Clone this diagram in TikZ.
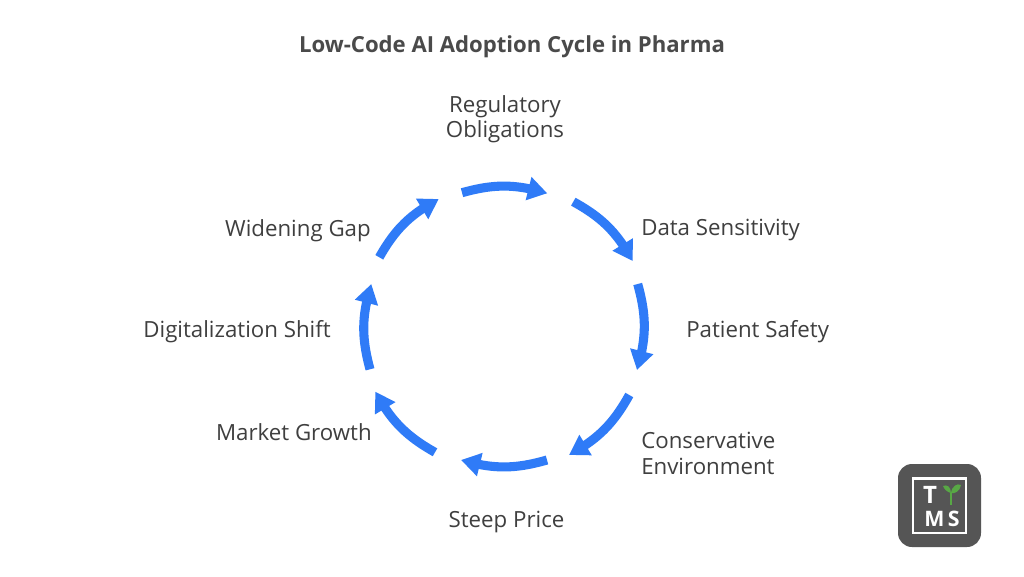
\documentclass[tikz,border=0pt]{standalone}
\usepackage{fontspec}
\setmainfont{Open Sans}
\usetikzlibrary{arrows.meta,bending}
\definecolor{cyc}{HTML}{2F7BF7}
\definecolor{lab}{HTML}{3F3F3F}
\definecolor{ttl}{HTML}{4A4A4A}
\definecolor{logo}{HTML}{555555}
\definecolor{leaf}{HTML}{58A845}
\tikzset{
  cycarrow/.style={draw=cyc,line width=6.8pt,-{Triangle[length=14.5pt,width=17pt,flex]}},
  lab/.style={font=\fontsize{16.7}{18.9}\selectfont,text=lab,inner sep=0pt,align=center},
  labl/.style={lab,anchor=west,align=left},
  labr/.style={lab,anchor=east,align=right},
  logot/.style={font=\fontsize{18}{18}\selectfont\bfseries,text=white,inner sep=0pt},
  logoms/.style={font=\fontsize{16}{16}\selectfont\bfseries,text=white,inner sep=0pt}
}
\begin{document}
\begin{tikzpicture}[x=0.75pt,y=0.75pt]
\useasboundingbox (0,0) rectangle (1024,576);
\fill[white] (0,0) rectangle (1024,576);
\node[inner sep=0pt,font=\fontsize{16.6}{18}\selectfont\bfseries,text=ttl] (title) at (512,529.5) {Low-Code AI Adoption Cycle in Pharma};
\coordinate (a1) at (462,383.3);   \coordinate (b1) at (547.3,382.7);
\coordinate (a2) at (573.3,374.3); \coordinate (b2) at (632.7,315);
\coordinate (a3) at (637.7,292);   \coordinate (b3) at (637,206);
\coordinate (a4) at (629.3,181);   \coordinate (b4) at (569,121);
\coordinate (a5) at (547,116);     \coordinate (b5) at (461,116);
\coordinate (a6) at (435,123.7);   \coordinate (b6) at (375.3,184.3);
\coordinate (a7) at (370,206.7);   \coordinate (b7) at (371.3,292);
\coordinate (a8) at (379.3,318.7); \coordinate (b8) at (438.7,377);
\foreach \i in {1,...,8}{
  \draw[cycarrow] (a\i) to[bend left=16] (b\i);
}
\node[lab] (reg) at (505,456.5) {Regulatory\\Obligations};
\node[labl] (data) at (641,345.5) {Data Sensitivity};
\node[labl] (pat) at (686,244) {Patient Safety};
\node[labl] (cons) at (641,122.5) {Conservative\\Environment};
\node[lab] (steep) at (506.5,54) {Steep Price};
\node[labr] (mkt) at (372,144) {Market Growth};
\node[labr] (dig) at (331,244) {Digitalization Shift};
\node[labr] (wid) at (371,345.5) {Widening Gap};
% logo
\fill[logo,rounded corners=10.5pt] (898,29) rectangle (981,112);
\draw[white,line width=2pt] (913,43) rectangle (966,97.5);
\node[logot] (t) at (930,81) {T};
\node[logoms] (ms) at (942,57.5) {M\hspace{2.5pt}S};
\draw[leaf,line width=2pt] (951,83) -- (951,71);
\fill[leaf] (951,83) .. controls (947,84) and (944,87) .. (943,90) .. controls (947,92) and (951,89) .. (951,83) -- cycle;
\fill[leaf] (951,83) .. controls (952,90) and (957,93) .. (961,91) .. controls (960,85) and (955,82) .. (951,83) -- cycle;
\end{tikzpicture}
\end{document}
